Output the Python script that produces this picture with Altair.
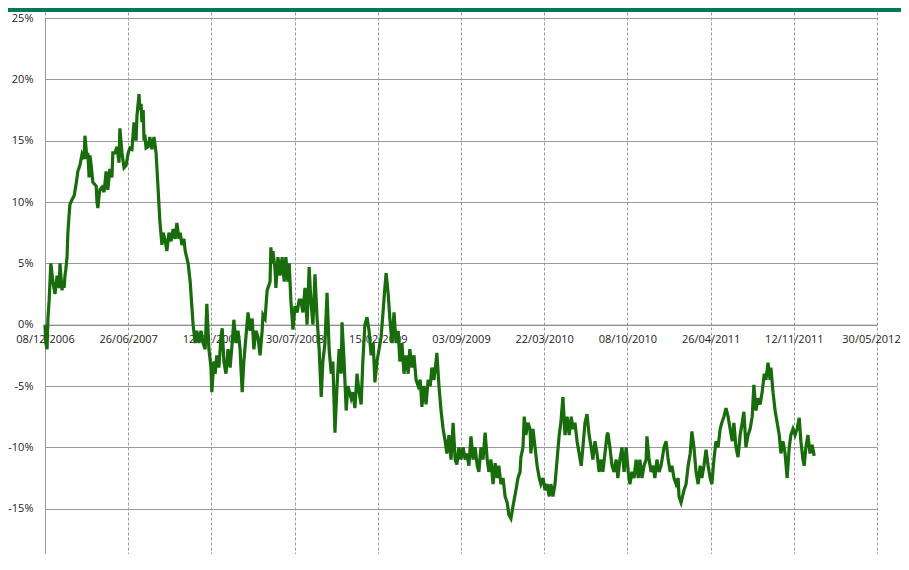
import altair as alt
import pandas as pd

# ---------------- data ----------------
start_date = "2006-12-08"

day_offsets = [
    0, 2, 5, 7, 10, 14, 19, 24, 29, 34, 36, 41, 43, 46, 48, 50, 53, 55, 58, 60,
    65, 70, 75, 79, 84, 89, 94, 96, 101, 103, 106, 108, 111, 115, 118, 123, 125, 127, 130, 132,
    137, 142, 147, 151, 156, 161, 163, 168, 173, 178, 180, 185, 190, 195, 200, 204, 209, 214, 219, 221,
    226, 228, 231, 233, 236, 238, 240, 243, 248, 252, 257, 262, 267, 272, 276, 281, 284, 288, 293, 298,
    303, 308, 313, 317, 322, 325, 329, 334, 337, 344, 349, 353, 356, 361, 365, 370, 375, 380, 385, 389,
    394, 399, 401, 406, 409, 413, 418, 423, 426, 430, 435, 440, 445, 450, 454, 459, 464, 469, 471, 474,
    478, 483, 488, 493, 498, 502, 507, 512, 517, 522, 524, 529, 534, 536, 541, 543, 546, 548, 553, 555,
    560, 565, 570, 575, 579, 584, 587, 591, 596, 601, 606, 611, 615, 620, 625, 630, 635, 639, 644, 649,
    654, 659, 664, 668, 673, 678, 683, 688, 692, 697, 702, 707, 712, 714, 719, 724, 728, 736, 740, 745,
    750, 755, 760, 764, 769, 774, 779, 784, 789, 793, 798, 803, 808, 813, 817, 820, 825, 829, 834, 839,
    844, 849, 853, 858, 863, 868, 873, 877, 882, 887, 892, 897, 902, 906, 911, 916, 921, 926, 930, 935,
    940, 942, 947, 952, 957, 962, 966, 971, 976, 981, 986, 990, 995, 1000, 1005, 1010, 1014, 1019, 1024, 1029,
    1034, 1039, 1043, 1048, 1053, 1058, 1063, 1067, 1072, 1077, 1082, 1087, 1091, 1096, 1101, 1106, 1111, 1115, 1120, 1125,
    1132, 1137, 1142, 1144, 1149, 1152, 1156, 1161, 1166, 1168, 1173, 1178, 1183, 1188, 1192, 1197, 1202, 1207, 1212, 1216,
    1221, 1226, 1231, 1236, 1240, 1245, 1250, 1255, 1260, 1265, 1269, 1274, 1279, 1284, 1289, 1293, 1298, 1303, 1308, 1313,
    1317, 1322, 1327, 1332, 1337, 1341, 1346, 1351, 1353, 1358, 1363, 1368, 1373, 1377, 1382, 1387, 1392, 1397, 1402, 1406,
    1411, 1416, 1421, 1426, 1430, 1435, 1440, 1445, 1447, 1452, 1457, 1462, 1466, 1471, 1476, 1481, 1488, 1493, 1498, 1503,
    1507, 1512, 1517, 1522, 1524, 1529, 1536, 1541, 1546, 1551, 1555, 1560, 1565, 1570, 1575, 1579, 1584, 1589, 1594, 1599,
    1603, 1608, 1613, 1618, 1623, 1627, 1632, 1637, 1642, 1647, 1652, 1656, 1661, 1666, 1671, 1676, 1680, 1685, 1690, 1695,
    1700, 1704, 1709, 1714, 1719, 1724, 1729, 1733, 1738, 1743, 1745, 1750, 1755, 1760, 1765, 1769, 1774, 1779, 1784, 1789,
    1793, 1798, 1803, 1808, 1813, 1817, 1822, 1825, 1829, 1834, 1839, 1844, 1849,
]

returns_pct = [
    0.0, -1.5, -2.0, 0.5, 2.0, 5.0, 3.5, 2.5, 4.0, 3.0, 5.0, 2.8, 3.5, 3.0, 4.0, 4.5, 5.5, 7.5, 9.0, 9.8,
    10.2, 10.5, 11.5, 12.5, 13.0, 13.9, 13.5, 15.4, 13.5, 14.0, 12.0, 13.8, 13.0, 11.6, 11.5, 11.3, 10.0, 9.5, 10.5, 11.0,
    11.2, 10.8, 12.5, 11.0, 12.7, 12.0, 14.0, 14.0, 14.5, 13.2, 16.0, 14.0, 12.8, 13.0, 14.0, 14.4, 14.3, 16.5, 15.0, 17.0,
    18.8, 17.5, 18.0, 16.5, 17.5, 15.0, 15.5, 14.4, 14.5, 15.3, 14.3, 15.3, 14.0, 11.0, 8.5, 6.5, 7.5, 7.0, 6.0, 7.5,
    6.8, 7.8, 7.0, 8.3, 7.0, 7.5, 6.5, 7.0, 6.0, 5.0, 3.5, 1.5, 0.0, -1.5, -0.5, -1.5, -0.5, -1.5, -2.0, 1.7,
    -2.0, -3.5, -5.5, -3.0, -4.0, -2.5, -3.5, -1.0, -0.3, -3.0, -4.0, -2.0, -3.5, -1.5, 0.4, -1.5, -0.5, -2.0, -3.5, -5.5,
    -3.0, -1.0, 1.0, -0.5, 0.5, -2.0, -0.5, -1.0, -2.5, -0.5, 0.8, 0.5, 2.8, 3.0, 3.5, 6.3, 5.0, 6.0, 4.5, 3.0,
    5.5, 4.0, 5.5, 3.5, 5.5, 3.5, 5.0, 2.0, -0.4, 1.5, 1.0, 2.0, 2.0, 1.0, 3.0, 0.0, 4.7, 2.0, 0.0, 4.1,
    0.5, -2.0, -5.9, -3.0, -1.5, 2.6, -2.0, -4.0, -3.0, -8.8, -5.0, -2.0, -4.0, 0.2, -3.0, -7.0, -5.0, -6.0, -5.5, -6.8,
    -4.0, -5.5, -6.5, -3.0, 0.0, 0.6, -0.5, -2.5, -1.5, -4.7, -3.0, -2.0, -1.0, 1.2, 3.0, 4.2, 2.5, 0.5, -1.5, 1.0,
    -1.5, -0.5, -3.0, -1.5, -4.0, -2.5, -4.0, -2.0, -3.5, -2.5, -4.5, -5.0, -4.5, -6.7, -5.0, -6.5, -4.5, -5.0, -3.5, -4.5,
    -3.0, -2.3, -5.0, -7.0, -8.5, -9.5, -10.5, -9.0, -11.0, -8.0, -11.0, -11.4, -10.0, -11.0, -10.0, -11.0, -10.5, -11.5, -9.1, -11.0,
    -10.0, -11.5, -12.0, -10.0, -11.0, -8.8, -11.0, -12.0, -11.0, -13.0, -11.3, -12.5, -11.5, -13.0, -12.5, -14.0, -14.5, -15.5, -15.8, -14.8,
    -13.5, -12.5, -12.0, -10.8, -10.0, -7.5, -9.0, -8.0, -8.5, -10.5, -8.5, -10.0, -11.5, -12.5, -13.0, -12.5, -13.5, -13.0, -14.0, -13.0,
    -14.0, -13.0, -11.0, -9.0, -8.0, -5.9, -9.0, -7.5, -9.0, -7.5, -8.5, -8.0, -9.5, -10.5, -11.5, -10.0, -8.0, -7.3, -9.0, -10.0,
    -11.0, -9.5, -10.5, -12.0, -11.0, -12.0, -10.5, -9.0, -8.8, -10.0, -11.5, -12.0, -11.0, -12.5, -11.0, -10.0, -12.0, -10.0, -12.0, -13.0,
    -12.0, -12.5, -11.0, -12.5, -11.0, -12.5, -11.5, -11.0, -9.1, -11.0, -12.0, -11.5, -12.5, -11.0, -12.0, -11.5, -10.0, -9.5, -11.0, -12.0,
    -11.5, -12.5, -13.0, -12.5, -14.0, -14.5, -13.5, -13.0, -11.5, -10.5, -8.7, -10.0, -12.0, -13.0, -11.5, -12.5, -11.5, -10.2, -11.5, -12.5,
    -13.0, -11.0, -9.5, -10.0, -8.5, -8.0, -7.5, -6.8, -7.5, -8.5, -9.5, -8.0, -10.0, -10.8, -9.0, -8.0, -7.1, -10.0, -9.0, -8.5,
    -7.5, -4.9, -7.0, -6.0, -6.5, -5.5, -4.0, -4.5, -3.1, -4.5, -3.5, -5.5, -7.0, -8.0, -9.0, -10.5, -9.5, -10.5, -12.5, -10.0,
    -9.0, -8.5, -9.0, -8.5, -7.6, -9.5, -11.0, -11.5, -10.0, -9.0, -10.5, -9.8, -10.7,
]

tick_dates = [
    "2006-12-08", "2007-06-26", "2008-01-12", "2008-07-30", "2009-02-15", "2009-09-03",
    "2010-03-22", "2010-10-08", "2011-04-26", "2011-11-12", "2012-05-30",
]
# the -20% line/label of the reference falls off the bottom of the page
y_ticks = [-15, -10, -5, 0, 5, 10, 15, 20, 25]
y_domain = [-20, 25]

# ---------------- build ----------------
dates = pd.to_datetime(start_date) + pd.to_timedelta(day_offsets, unit="D")
df = pd.DataFrame({"date": dates.strftime("%Y-%m-%d"), "ret": returns_pct})


def to_dt(s):
    y, m, d = (int(p) for p in s.split("-"))
    return alt.DateTime(year=y, month=m, date=d, utc=True)


tick_dt = [to_dt(s) for s in tick_dates]
last_y, last_m, last_d = (int(p) for p in tick_dates[-1].split("-"))

# full scale span (25% .. -20%) is 552 px, but the visible view is cut short
SCALE_SPAN = 552
W, H = 832, 536
PAD_L, PAD_T, PAD_R, PAD_B = 37, 10, 24, 0
zero_y = SCALE_SPAN * (y_domain[1] - 0) / (y_domain[1] - y_domain[0])
zero_offset = -(H - zero_y)

FONT = "Open Sans"
GRID = "#9a9a9a"

line = alt.Chart(df).mark_line(color="#186c0c", strokeWidth=3.2).encode(
    x=alt.X(
        "date:T",
        scale=alt.Scale(type="utc", domain=[tick_dt[0], tick_dt[-1]]),
        axis=alt.Axis(
            values=tick_dt,
            format="%d/%m/%Y",
            title=None,
            grid=True,
            gridColor=GRID,
            gridDash=[3, 2],
            gridWidth=1,
            ticks=False,
            domain=True,
            domainColor="#8a8a8a",
            offset=zero_offset,
            labelPadding=9,
            labelFont=FONT,
            labelFontSize=11,
            labelColor="#222222",
            labelOverlap=False,
            labelFlush=False,
            labelBound=False,
            labelOffset={
                "condition": {
                    "test": f"datum.value >= utc({last_y}, {last_m - 1}, {last_d - 1})",
                    "value": -6,
                },
                "value": 0,
            },
        ),
    ),
    y=alt.Y(
        "ret:Q",
        scale=alt.Scale(domain=y_domain, nice=False, zero=False, range=[SCALE_SPAN, 0]),
        axis=alt.Axis(
            values=y_ticks,
            labelExpr="datum.value + '%'",
            title=None,
            grid=True,
            gridColor=GRID,
            gridWidth=1,
            ticks=False,
            domain=True,
            domainColor=GRID,
            labelPadding=12,
            labelFont=FONT,
            labelFontSize=11,
            labelColor="#222222",
            labelOverlap=False,
            labelFlush=False,
        ),
    ),
)

top_bar = alt.Chart(alt.Data(values=[{"k": 1}])).mark_rect(color="#00785a").encode(
    x=alt.value(-PAD_L),
    x2=alt.value(W + PAD_R),
    y=alt.value(-PAD_T),
    y2=alt.value(-PAD_T + 4),
)

chart = (
    alt.layer(line, top_bar)
    .properties(
        width=W,
        height=H,
        padding={"left": PAD_L, "top": PAD_T, "right": PAD_R, "bottom": PAD_B},
        autosize=alt.AutoSizeParams(type="none"),
        background="white",
    )
    .configure_view(strokeWidth=0)
)

chart.save("out.html", embed_options={"renderer": "svg", "actions": False})
